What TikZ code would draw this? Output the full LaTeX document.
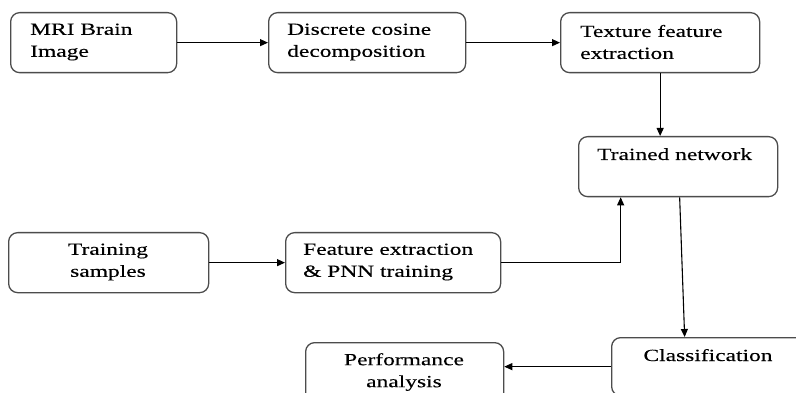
\documentclass[tikz,border=0pt]{standalone}
\usepackage{fontspec}
\setmainfont{Liberation Serif}[FakeStretch=1.38,FakeBold=0.25]
\usetikzlibrary{arrows.meta}
\begin{document}
\begin{tikzpicture}[x=1pt,y=-1pt,
  box/.style={draw=black!70, line width=1.3pt, rounded corners=9pt, rectangle, inner sep=0pt, anchor=north west},
  txt/.style={inner sep=0pt, font=\fontsize{17}{22}\selectfont, text=black},
  conn/.style={draw=black, line width=1.1pt, -{Triangle[length=8pt,width=7pt]}}]
\useasboundingbox (0,0) rectangle (796,393);
\clip (0,0) rectangle (796,393);
\fill[white] (0,0) rectangle (796,393);
% boxes
\node[box, minimum width=166pt, minimum height=60pt] (b1) at (10,12) {};
\node[box, minimum width=197pt, minimum height=60pt] (b2) at (268,12) {};
\node[box, minimum width=199pt, minimum height=60pt] (b3) at (560,12) {};
\node[box, minimum width=199pt, minimum height=60pt] (tn) at (578,136) {};
\node[box, minimum width=200pt, minimum height=60pt] (ts) at (8,232) {};
\node[box, minimum width=215pt, minimum height=60pt] (fe) at (285,232) {};
\node[box, minimum width=200pt, minimum height=58pt] (cls) at (611,337) {};
\node[box, minimum width=198pt, minimum height=60pt] (perf) at (305,342) {};
% texts
\node[txt, anchor=west, align=left] (t1) at (30,42) {MRI Brain\\Image};
\node[txt, anchor=west, align=left] (t2) at (287,42) {Discrete cosine\\decomposition};
\node[txt, anchor=west, align=left] (t3) at (580,42) {Texture feature\\extraction};
\node[txt, anchor=base west] (t4) at (597,160) {Trained network};
\node[txt, anchor=center, align=center] (t5) at (108,262) {Training\\samples};
\node[txt, anchor=west, align=left] (t6) at (303,262) {Feature extraction\\\& PNN training};
\node[txt, anchor=base] (t7) at (708,361) {Classification};
\node[txt, anchor=north, align=center] (t8) at (404,353) {Performance\\analysis};
% connectors
\draw[conn] (b1.east) -- (b2.west);
\draw[conn] (b2.east) -- (b3.west);
\draw[conn] (b3.south) -- (b3.south |- tn.north);
\draw[conn] (ts.east) -- (fe.west);
\draw[conn] (fe.east) -| ([xshift=-57.5pt]tn.south);
\draw[conn] ([xshift=1.5pt]tn.south) -- ([xshift=-27pt]cls.north);
\draw[conn] (cls.west) -- (perf.east |- cls.west);
\end{tikzpicture}
\end{document}
